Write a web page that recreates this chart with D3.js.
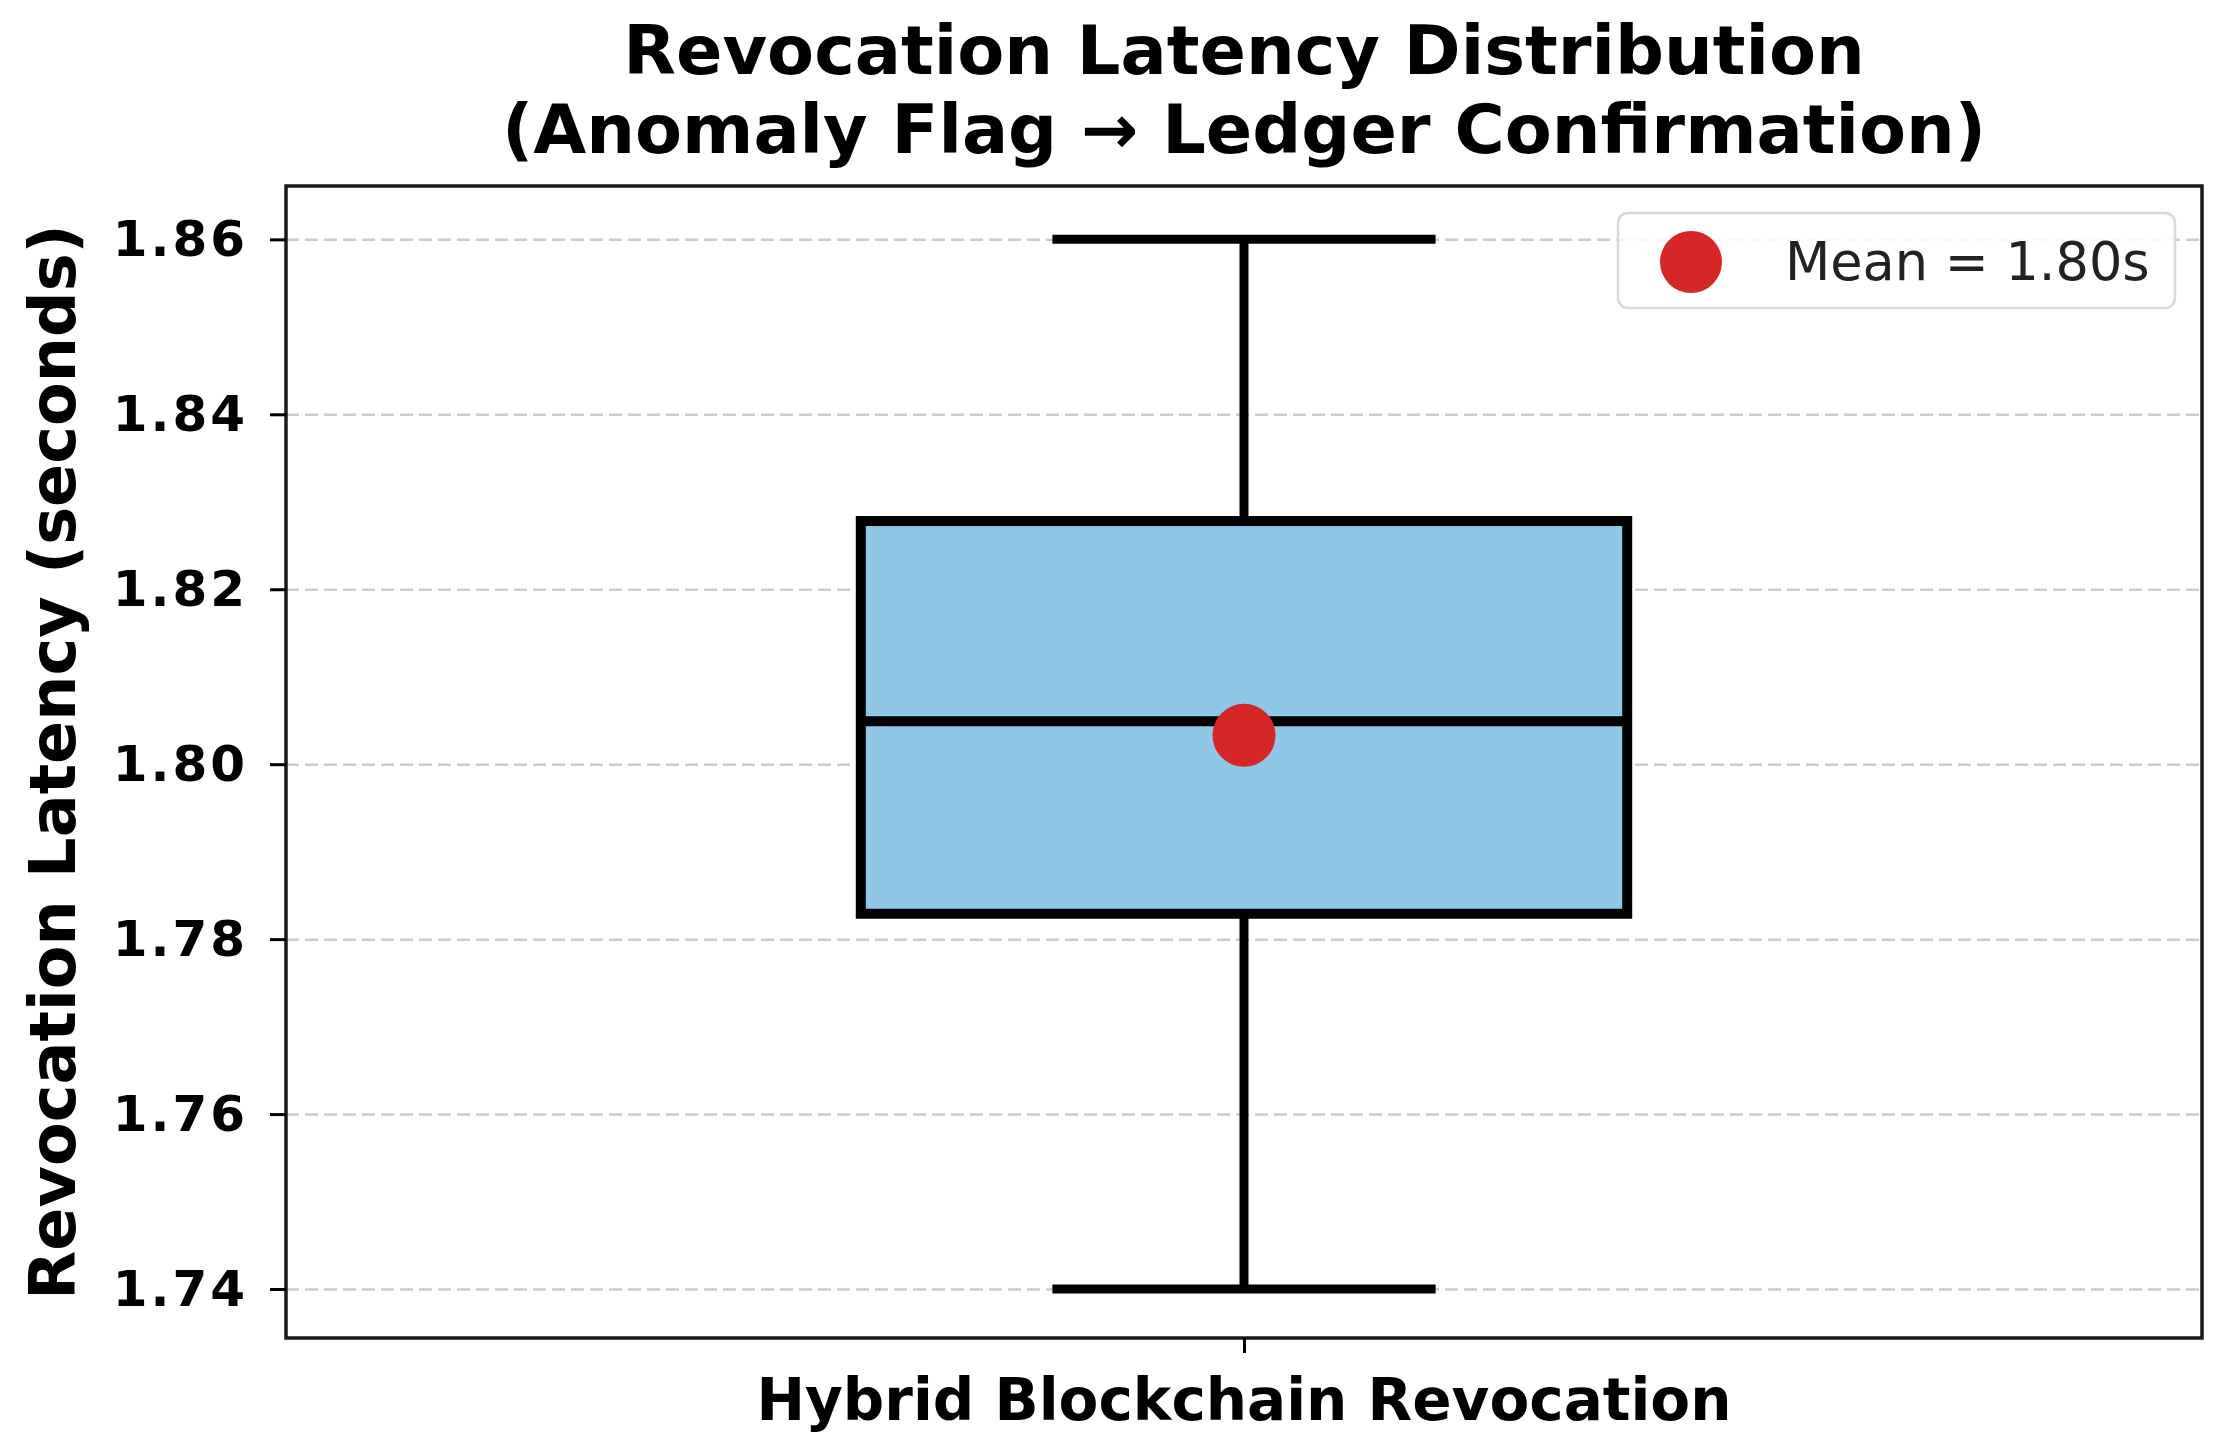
<!DOCTYPE html>
<html>
<head>
<meta charset="utf-8">
<script src="https://cdn.jsdelivr.net/npm/d3@7"></script>
<style>
  body { margin: 0; background: #fff; }
  svg { display: block; }
</style>
</head>
<body>
<div id="chart"></div>
<script>
// box plot values (seconds)
var categories = ["Hybrid Blockchain Revocation"];
var whiskerLow = [1.74];
var q1 = [1.7829];
var median = [1.8049];
var q3 = [1.8278];
var whiskerHigh = [1.86];
var means = [1.8033];
var yTicks = [1.74, 1.76, 1.78, 1.80, 1.82, 1.84, 1.86];

var titleLines = ["Revocation Latency Distribution", "(Anomaly Flag \u2192 Ledger Confirmation)"];
var yLabel = "Revocation Latency (seconds)";

var width = 2222;
var height = 1451;
// note: "top" is taken by window.top, so plot edges get their own names
var axL = 286, axR = 2202, axT = 186, axB = 1338;
var font = "'DejaVu Sans', 'Liberation Sans', sans-serif";

var svg = d3.select("#chart")
            .append("svg")
            .attr("width", width)
            .attr("height", height);

// one box at position 1, like matplotlib (xlim 0.5 .. 1.5)
var x = d3.scaleLinear().domain([0.5, 1.5]).range([axL, axR]);
var y = d3.scaleLinear().domain([1.7344, 1.8661]).range([axB, axT]);

var boxWidth = 0.4;
var capWidth = 0.2;

// grid first so the box sits on top
var grid = svg.append("g")
              .attr("transform", "translate(" + axL + ",0)")
              .call(d3.axisLeft(y).tickValues(yTicks).tickSize(-(axR - axL)).tickFormat(""));
grid.select(".domain").remove();
grid.selectAll("line")
    .attr("stroke", "#cccccc")
    .attr("stroke-width", 2.5)
    .attr("stroke-dasharray", "13,6");

var data = categories.map(function(c, i) {
  return { name: c, pos: i + 1, lo: whiskerLow[i], q1: q1[i], med: median[i], q3: q3[i], hi: whiskerHigh[i], mean: means[i] };
});

var g = svg.append("g");

data.forEach(function(d) {
  // whiskers
  g.append("line")
   .attr("x1", x(d.pos)).attr("x2", x(d.pos))
   .attr("y1", y(d.q3)).attr("y2", y(d.hi))
   .attr("stroke", "#000").attr("stroke-width", 9);
  g.append("line")
   .attr("x1", x(d.pos)).attr("x2", x(d.pos))
   .attr("y1", y(d.q1)).attr("y2", y(d.lo))
   .attr("stroke", "#000").attr("stroke-width", 9);
  // caps
  [d.lo, d.hi].forEach(function(v) {
    g.append("line")
     .attr("x1", x(d.pos - capWidth / 2)).attr("x2", x(d.pos + capWidth / 2))
     .attr("y1", y(v)).attr("y2", y(v))
     .attr("stroke", "#000").attr("stroke-width", 9);
  });
  // box
  g.append("rect")
   .attr("x", x(d.pos - boxWidth / 2))
   .attr("y", y(d.q3))
   .attr("width", x(d.pos + boxWidth / 2) - x(d.pos - boxWidth / 2))
   .attr("height", y(d.q1) - y(d.q3))
   .attr("fill", "#8ec8e6")
   .attr("stroke", "#000")
   .attr("stroke-width", 10);
  // median
  g.append("line")
   .attr("x1", x(d.pos - boxWidth / 2)).attr("x2", x(d.pos + boxWidth / 2))
   .attr("y1", y(d.med)).attr("y2", y(d.med))
   .attr("stroke", "#000").attr("stroke-width", 10);
  // mean dot
  g.append("circle")
   .attr("cx", x(d.pos))
   .attr("cy", y(d.mean))
   .attr("r", 31.5)
   .attr("fill", "#d62728");
});

// axes frame
svg.append("rect")
   .attr("x", axL).attr("y", axT)
   .attr("width", axR - axL).attr("height", axB - axT)
   .attr("fill", "none")
   .attr("stroke", "#1a1a1a")
   .attr("stroke-width", 3.5);

// y axis
var yAxis = svg.append("g")
               .attr("transform", "translate(" + axL + ",0)")
               .call(d3.axisLeft(y).tickValues(yTicks).tickSize(16).tickPadding(22).tickFormat(d3.format(".2f")));
yAxis.select(".domain").remove();
yAxis.selectAll("line").attr("stroke", "#000").attr("stroke-width", 3);
yAxis.selectAll("text")
     .attr("font-family", font)
     .attr("font-weight", "bold")
     .attr("font-size", 50)
     .attr("letter-spacing", 3)
     .attr("fill", "#000");

// x axis (single category tick)
var xAxis = svg.append("g")
               .attr("transform", "translate(0," + axB + ")")
               .call(d3.axisBottom(x).tickValues(data.map(function(d) { return d.pos; })).tickSize(15).tickFormat(""));
xAxis.select(".domain").remove();
xAxis.selectAll("line").attr("stroke", "#000").attr("stroke-width", 3);

svg.append("text")
   .attr("x", x(1))
   .attr("y", 1420)
   .attr("text-anchor", "middle")
   .attr("font-family", font)
   .attr("font-weight", "bold")
   .attr("font-size", 58)
   .text(categories[0]);

// y label
svg.append("text")
   .attr("transform", "translate(75," + ((axT + axB) / 2) + ") rotate(-90)")
   .attr("text-anchor", "middle")
   .attr("font-family", font)
   .attr("font-weight", "bold")
   .attr("font-size", 63.7)
   .text(yLabel);

// title
svg.selectAll(".title")
   .data(titleLines)
   .enter()
   .append("text")
   .attr("class", "title")
   .attr("x", (axL + axR) / 2)
   .attr("y", function(d, i) { return 74 + i * 79; })
   .attr("text-anchor", "middle")
   .attr("font-family", font)
   .attr("font-weight", "bold")
   .attr("font-size", 68.5)
   .text(function(d) { return d; });

// legend
var legend = svg.append("g");
legend.append("rect")
      .attr("x", 1618).attr("y", 213)
      .attr("width", 557).attr("height", 95)
      .attr("rx", 10)
      .attr("fill", "#fff")
      .attr("fill-opacity", 0.85)
      .attr("stroke", "#d9d9d9")
      .attr("stroke-width", 2.5);
legend.append("circle")
      .attr("cx", 1691).attr("cy", 262)
      .attr("r", 31)
      .attr("fill", "#d62728");
legend.append("text")
      .attr("x", 1785).attr("y", 280)
      .attr("font-family", font)
      .attr("font-size", 52.5)
      .attr("fill", "#222")
      .text("Mean = " + d3.format(".2f")(means[0]) + "s");

console.log("chart drawn");
</script>
</body>
</html>
